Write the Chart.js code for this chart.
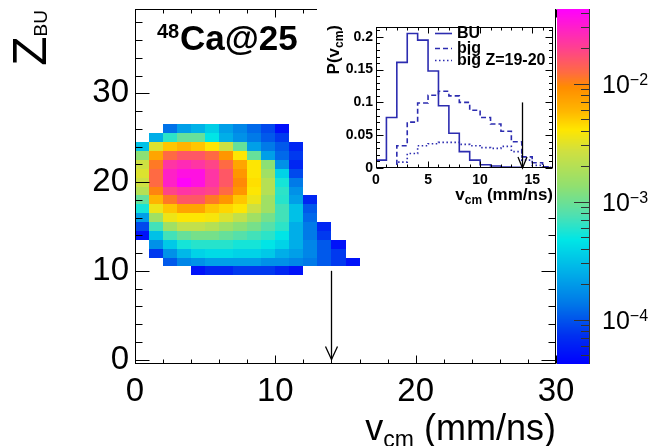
<!DOCTYPE html>
<html><head><meta charset="utf-8">
<script src="https://cdn.jsdelivr.net/npm/chart.js@4.4.1/dist/chart.umd.min.js"></script>
<style>
html,body{margin:0;padding:0;background:#fff;}
#wrap{position:relative;width:648px;height:446px;overflow:hidden;}
#main{position:absolute;left:0;top:0;}
#insetBox{position:absolute;left:317px;top:4px;width:238px;height:206px;background:#fff;}
#inset{position:absolute;left:0;top:0;}
</style></head><body>
<div id="wrap">
<canvas id="main" width="648" height="446"></canvas>
<div id="insetBox"><canvas id="inset" width="238" height="206"></canvas></div>
</div>
<script>
// ---------------- DATA ----------------
// main 2D histogram: v_cm bin edges (mm/ns), Z_BU bin centres, cell values P
const vcmEdges = [0,1,2,3,4,5,6,7,8,9,10,11,12,13,14,15,16];
const zbuCenters = [26,25,24,23,22,21,20,19,18,17,16,15,14,13,12,11,10];
const heatValues = [
  [0,0,1.3e-4,2.1e-4,2.6e-4,3.6e-4,2.1e-4,1.6e-4,1.2e-4,9e-5,5e-5,0,0,0,0,0],
  [0,2.5e-4,6.2e-4,9.3e-4,9.3e-4,4.7e-4,2.5e-4,1.8e-4,1.4e-4,1.04e-4,7.9e-5,0,0,0,0,0],
  [3.1e-4,3.0e-3,5.2e-3,6.0e-3,5.2e-3,4.0e-3,2.6e-3,9.3e-4,2.1e-4,1.4e-4,1.04e-4,6.5e-5,0,0,0,0],
  [1.3e-3,7.1e-3,1.26e-2,1.55e-2,1.55e-2,1.26e-2,8.4e-3,4.0e-3,9.3e-4,2.1e-4,1.2e-4,7.9e-5,0,0,0,0],
  [2.6e-3,1.1e-2,2.3e-2,2.6e-2,2.3e-2,1.9e-2,1.26e-2,7.1e-3,4.0e-3,1.3e-3,1.8e-4,6.5e-5,0,0,0,0],
  [3.0e-3,1.26e-2,2.9e-2,3.5e-2,3.5e-2,2.3e-2,1.55e-2,8.4e-3,4.0e-3,1.6e-3,3.8e-4,9.1e-5,0,0,0,0],
  [2.6e-3,1.26e-2,2.9e-2,4.1e-2,3.5e-2,2.3e-2,1.55e-2,9.6e-3,4.3e-3,2.0e-3,5.4e-4,1.4e-4,0,0,0,0],
  [2.0e-3,1.0e-2,1.9e-2,2.3e-2,2.1e-2,1.9e-2,1.26e-2,8.4e-3,4.0e-3,2.0e-3,6.2e-4,1.8e-4,0,0,0,0],
  [9.3e-4,6.0e-3,1.1e-2,1.55e-2,1.55e-2,1.1e-2,8.4e-3,5.2e-3,3.5e-3,1.6e-3,6.0e-4,2.1e-4,6.5e-5,0,0,0],
  [5.4e-4,3.5e-3,5.2e-3,7.1e-3,7.1e-3,5.2e-3,4.6e-3,4.0e-3,2.6e-3,1.6e-3,7.1e-4,3.1e-4,1.04e-4,0,0,0],
  [2.1e-4,1.6e-3,3.5e-3,4.0e-3,4.0e-3,3.8e-3,3.0e-3,2.3e-3,1.6e-3,1.07e-3,7.1e-4,3.1e-4,1.2e-4,0,0,0],
  [9.1e-5,7.1e-4,1.6e-3,2.3e-3,2.3e-3,2.0e-3,1.6e-3,1.3e-3,1.07e-3,8.1e-4,6.2e-4,2.5e-4,1.4e-4,6.5e-5,0,0],
  [5.2e-5,3.1e-4,7.1e-4,9.3e-4,1.07e-3,1.07e-3,9.3e-4,8.1e-4,7.1e-4,6.2e-4,4.7e-4,2.5e-4,1.4e-4,7.9e-5,0,0],
  [0,1.8e-4,3.4e-4,5.4e-4,6.0e-4,6.0e-4,6.0e-4,5.4e-4,5.4e-4,4.7e-4,3.8e-4,2.5e-4,1.6e-4,1.04e-4,5.2e-5,0],
  [0,7.9e-5,1.8e-4,2.8e-4,3.8e-4,4.2e-4,4.2e-4,3.8e-4,3.8e-4,3.4e-4,2.5e-4,2.1e-4,1.6e-4,1.04e-4,7.9e-5,0],
  [0,0,1.04e-4,1.6e-4,1.8e-4,2.1e-4,2.1e-4,2.1e-4,2.1e-4,1.8e-4,1.8e-4,1.6e-4,1.4e-4,1.04e-4,7.9e-5,5.2e-5],
  [0,0,0,0,5.2e-5,6.5e-5,6.5e-5,7.9e-5,7.9e-5,7.9e-5,6.5e-5,5.2e-5,0,0,0,0]
];
const xRange = [0, 30];
const yRange = [-0.5, 39.5];
const zRange = [4.2e-5, 0.043];
const xTickLabels = [0, 10, 20, 30];
const yTickLabels = [0, 10, 20, 30];
const zTickLabels = [1e-4, 1e-3, 1e-2];
const arrowVcm = 14;
const arrowZbu = [10, 0];
const titleMass = '48';
const titleText = 'Ca@25';

// inset: P(v_cm) histograms
const insetEdges = [0,1,2,3,4,5,6,7,8,9,10,11,12,13,14,15,16,17];
const buValues   = [0.012,0.077,0.161,0.205,0.195,0.148,0.095,0.053,0.025,0.012,0.005,0.003,0.0015,0.001,0,0,0];
const bigValues  = [0,0,0.034,0.070,0.099,0.111,0.117,0.110,0.100,0.088,0.077,0.067,0.056,0.040,0.017,0.008,0.002];
const bigZValues = [0,0,0.009,0.022,0.034,0.037,0.039,0.039,0.036,0.034,0.031,0.030,0.033,0.025,0.012,0.004,0.001];
const seriesLabels = ['BU', 'big', 'big Z=19-20'];
const insetXRange = [0, 17];
const insetYRange = [0, 0.215];
const insetXTickLabels = [0, 5, 10, 15];
const insetYTickLabels = [0, 0.05, 0.1, 0.15, 0.2];
const insetArrowX = 14;
const insetArrowY = [0.1, 0];

// ---------------- STYLE ----------------
const FONT = "'Liberation Sans', Arial, Helvetica, sans-serif";
Chart.defaults.font.family = FONT;
Chart.defaults.color = '#000';
const paletteStops = [
  [0.00,[0,0,255]],[0.08,[0,48,240]],[0.17,[0,120,232]],[0.26,[0,176,232]],
  [0.35,[0,230,230]],[0.42,[80,224,176]],[0.50,[144,224,112]],[0.60,[208,224,64]],
  [0.66,[255,230,0]],[0.71,[255,184,0]],[0.78,[255,140,0]],[0.82,[255,108,64]],
  [0.89,[255,64,144]],[1.00,[255,0,255]]
];
function paletteColor(f){
  f = Math.max(0, Math.min(1, f));
  for (let i=1;i<paletteStops.length;i++){
    const [f1,c1]=paletteStops[i], [f0,c0]=paletteStops[i-1];
    if (f<=f1){
      const t=(f-f0)/(f1-f0);
      const c=c0.map((v,k)=>Math.round(v+(c1[k]-v)*t));
      return `rgb(${c[0]},${c[1]},${c[2]})`;
    }
  }
  return 'rgb(255,0,255)';
}
function colorForValue(zs, v){
  const p = zs.getPixelForValue(v);
  return paletteColor((zs.bottom - p)/(zs.bottom - zs.top));
}
function drawRuns(ctx, x, y, runs, align){
  let total = 0;
  runs.forEach(r=>{ ctx.font = `${r.w||'normal'} ${r.s}px ${FONT}`; r.width = ctx.measureText(r.t).width; total += r.width; });
  let cx = align==='right' ? x-total : x;
  runs.forEach(r=>{ ctx.font = `${r.w||'normal'} ${r.s}px ${FONT}`; ctx.fillText(r.t, cx, y+(r.dy||0)); cx += r.width; });
}
function snap(v){ return Math.round(v)+0.5; }
function drawArrow(ctx, x, y0, y1, headLen, headHalf){
  ctx.beginPath(); ctx.moveTo(x,y0); ctx.lineTo(x,y1); ctx.stroke();
  ctx.beginPath(); ctx.moveTo(x-headHalf,y1-headLen); ctx.lineTo(x,y1); ctx.lineTo(x+headHalf,y1-headLen); ctx.stroke();
}
function range(a,b,step){ const out=[]; for(let v=a; v<=b+1e-9; v+=step) out.push(+v.toFixed(6)); return out; }
function drawInwardTicks(ctx, a, xs, ys, xMaj, xMin, yMaj, yMin, xl, yl){
  ctx.beginPath();
  const tx = (vals, len) => vals.forEach(v=>{ const p=snap(xs.getPixelForValue(v)); if(p<a.left-1||p>a.right+1) return;
    ctx.moveTo(p,a.bottom); ctx.lineTo(p,a.bottom-len); ctx.moveTo(p,a.top); ctx.lineTo(p,a.top+len); });
  const ty = (vals, len) => vals.forEach(v=>{ const p=snap(ys.getPixelForValue(v)); if(p<a.top-1||p>a.bottom+1) return;
    ctx.moveTo(a.left,p); ctx.lineTo(a.left+len,p); ctx.moveTo(a.right,p); ctx.lineTo(a.right-len,p); });
  tx(xMaj, xl); tx(xMin, xl/2); ty(yMaj, yl); ty(yMin, yl/2);
  ctx.stroke();
}
function noPad(s){ s.paddingTop = 0; s.paddingBottom = 0; s.paddingLeft = 0; s.paddingRight = 0; }

// ---------------- MAIN CHART ----------------
const mainPlugin = {
  id: 'mainDecor',
  afterDraw(chart){
    const {ctx, chartArea:a, scales:{x, y, z}} = chart;
    ctx.save();
    // heat cells
    zbuCenters.forEach((zc, r) => heatValues[r].forEach((v, c) => {
      if (!v) return;
      const x0 = Math.round(x.getPixelForValue(vcmEdges[c])), x1 = Math.round(x.getPixelForValue(vcmEdges[c+1]));
      const yTop = Math.round(y.getPixelForValue(zc+0.5)), yBot = Math.round(y.getPixelForValue(zc-0.5));
      ctx.fillStyle = colorForValue(z, v);
      ctx.fillRect(x0, yTop, x1-x0, yBot-yTop);
    }));
    // frame
    ctx.strokeStyle = '#000'; ctx.lineWidth = 1;
    ctx.strokeRect(snap(a.left), snap(a.top), Math.round(a.right)-Math.round(a.left)-1, Math.round(a.bottom)-Math.round(a.top)-1);
    drawInwardTicks(ctx, {left:snap(a.left), right:Math.round(a.right)-0.5, top:snap(a.top), bottom:Math.round(a.bottom)-0.5},
      x, y, xTickLabels, range(2,28,2).filter(v=>v%10), yTickLabels, range(2,38,2).filter(v=>v%10), 8, 14);
    // arrow
    ctx.lineWidth = 1.3;
    drawArrow(ctx, snap(x.getPixelForValue(arrowVcm)), y.getPixelForValue(arrowZbu[0]), y.getPixelForValue(arrowZbu[1]), 13, 6);
    // color bar
    const bx0 = 557, bx1 = 589;
    for (let p = Math.round(z.top); p < Math.round(z.bottom); p++){
      ctx.fillStyle = colorForValue(z, z.getValueForPixel(p+0.5));
      ctx.fillRect(bx0, p, bx1-bx0, 1);
    }
    ctx.strokeStyle = '#333'; ctx.lineWidth = 1;
    ctx.beginPath(); ctx.moveTo(bx1+0.5, z.top); ctx.lineTo(bx1+0.5, z.bottom); ctx.stroke();
    ctx.beginPath();
    [1e-5].concat(zTickLabels).forEach(d=>{
      for (let m=1; m<=9; m++){
        const v = d*m; if (v<zRange[0]||v>zRange[1]) continue;
        const p = snap(z.getPixelForValue(v));
        ctx.moveTo(bx1, p); ctx.lineTo(bx1-(m===1?15:8), p);
      }
    });
    ctx.stroke();
    ctx.fillStyle = '#000'; ctx.textBaseline = 'alphabetic';
    zTickLabels.forEach(v=>{
      const p = z.getPixelForValue(v);
      const e = Math.round(Math.log10(v));
      drawRuns(ctx, 602, p+9, [{t:'10', s:25},{t:'\u2212'+Math.abs(e), s:16, dy:-8}]);
    });
    // axis titles
    drawRuns(ctx, a.right, 440, [{t:'v', s:36},{t:'cm', s:23, dy:7},{t:' (mm/ns)', s:36}], 'right');
    ctx.save();
    ctx.translate(46, 10); ctx.rotate(-Math.PI/2);
    drawRuns(ctx, 0, 0, [{t:'Z', s:48},{t:'BU', s:19, dy:1}], 'right');
    ctx.restore();
    // title
    drawRuns(ctx, 157, 38, [{t:titleMass, s:20, w:'bold'}]);
    drawRuns(ctx, 180, 50, [{t:titleText, s:35, w:'bold'}]);
    ctx.restore();
  }
};

new Chart(document.getElementById('main'), {
  type: 'scatter',
  data: { datasets: [] },
  options: {
    responsive: false, animation: false, events: [],
    layout: { padding: { top: 9, right: 0, bottom: 0, left: 0 } },
    plugins: { legend: { display: false }, tooltip: { enabled: false } },
    scales: {
      x: { type: 'linear', position: 'bottom', min: xRange[0], max: xRange[1],
        afterBuildTicks: s => { s.ticks = xTickLabels.map(v => ({ value: v })); },
        afterFit: s => { s.height = 82; noPad(s); },
        grid: { display: false, drawTicks: false }, border: { display: false },
        ticks: { padding: 8, font: { size: 33 }, color: '#000', maxRotation: 0, autoSkip: false } },
      y: { type: 'linear', position: 'left', min: yRange[0], max: yRange[1],
        afterBuildTicks: s => { s.ticks = yTickLabels.map(v => ({ value: v })); },
        afterFit: s => { s.width = 135; noPad(s); },
        grid: { display: false, drawTicks: false }, border: { display: false },
        ticks: { padding: 6, font: { size: 33 }, color: '#000', autoSkip: false } },
      z: { type: 'logarithmic', position: 'right', min: zRange[0], max: zRange[1],
        afterFit: s => { s.width = 92; noPad(s); },
        grid: { display: false, drawTicks: false }, border: { display: false }, ticks: { display: false } }
    }
  },
  plugins: [mainPlugin]
});

// ---------------- INSET CHART ----------------
function stepPoints(vals){
  const pts = vals.map((v,i)=>({x: insetEdges[i], y: v}));
  pts.push({x: insetEdges[vals.length], y: vals[vals.length-1]});
  return pts;
}
const lineBlue = '#2c2cb0';
const insetPlugin = {
  id: 'insetDecor',
  afterDraw(chart){
    const {ctx, chartArea:a, scales:{x, y}} = chart;
    ctx.save();
    ctx.strokeStyle = '#000'; ctx.lineWidth = 1;
    const A = {left:snap(a.left), right:Math.round(a.right)-0.5, top:snap(a.top), bottom:Math.round(a.bottom)-0.5};
    ctx.strokeRect(A.left, A.top, A.right-A.left, A.bottom-A.top);
    drawInwardTicks(ctx, A, x, y, insetXTickLabels, range(1,16,1).filter(v=>v%5), insetYTickLabels,
      range(0.01,0.21,0.01).filter(v=>Math.abs(v/0.05-Math.round(v/0.05))>1e-6), 6, 7);
    // arrow
    ctx.lineWidth = 1.3;
    drawArrow(ctx, snap(x.getPixelForValue(insetArrowX)), y.getPixelForValue(insetArrowY[0]), y.getPixelForValue(insetArrowY[1]), 11, 4.5);
    // legend
    const rows = [29, 44, 56], base = [34, 49, 61];
    chart.data.datasets.forEach((ds, i) => {
      ctx.strokeStyle = ds.borderColor; ctx.lineWidth = ds.borderWidth; ctx.setLineDash(ds.borderDash || []);
      ctx.beginPath(); ctx.moveTo(118, rows[i]+0.5); ctx.lineTo(135, rows[i]+0.5); ctx.stroke();
      ctx.setLineDash([]);
      ctx.fillStyle = '#000';
      drawRuns(ctx, 140, base[i], [{t: ds.label, s: 16, w: 'bold'}]);
    });
    // titles
    ctx.fillStyle = '#000';
    drawRuns(ctx, a.right, 196, [{t:'v', s:17, w:'bold'},{t:'cm', s:12, w:'bold', dy:4},{t:' (mm/ns)', s:17, w:'bold'}], 'right');
    ctx.save();
    ctx.translate(22, 21); ctx.rotate(-Math.PI/2);
    drawRuns(ctx, 0, 0, [{t:'P(v', s:17, w:'bold'},{t:'cm', s:12, w:'bold', dy:4},{t:')', s:17, w:'bold'}], 'right');
    ctx.restore();
    ctx.restore();
  }
};
new Chart(document.getElementById('inset'), {
  type: 'line',
  data: { datasets: [
    { label: seriesLabels[0], data: stepPoints(buValues), borderColor: lineBlue, borderWidth: 1.6, stepped: true, pointRadius: 0, fill: false, borderJoinStyle: 'miter' },
    { label: seriesLabels[1], data: stepPoints(bigValues), borderColor: lineBlue, borderWidth: 1.6, borderDash: [5, 3], stepped: true, pointRadius: 0, fill: false, borderJoinStyle: 'miter' },
    { label: seriesLabels[2], data: stepPoints(bigZValues), borderColor: lineBlue, borderWidth: 1.6, borderDash: [1.5, 2.5], stepped: true, pointRadius: 0, fill: false, borderJoinStyle: 'miter' }
  ]},
  options: {
    responsive: false, animation: false, events: [],
    layout: { padding: { top: 23, right: 2, bottom: 0, left: 0 } },
    plugins: { legend: { display: false }, tooltip: { enabled: false } },
    scales: {
      x: { type: 'linear', min: insetXRange[0], max: insetXRange[1],
        afterBuildTicks: s => { s.ticks = insetXTickLabels.map(v => ({ value: v })); },
        afterFit: s => { s.height = 42; noPad(s); },
        grid: { display: false, drawTicks: false }, border: { display: false },
        ticks: { padding: 4, font: { size: 14, weight: 'bold' }, color: '#000', maxRotation: 0, autoSkip: false } },
      y: { type: 'linear', min: insetYRange[0], max: insetYRange[1],
        afterBuildTicks: s => { s.ticks = insetYTickLabels.map(v => ({ value: v })); },
        afterFit: s => { s.width = 59; noPad(s); },
        grid: { display: false, drawTicks: false }, border: { display: false },
        ticks: { padding: 3, font: { size: 14, weight: 'bold' }, color: '#000', autoSkip: false,
                 callback: v => String(+v.toFixed(4)) } }
    }
  },
  plugins: [insetPlugin]
});
</script>
</body></html>
